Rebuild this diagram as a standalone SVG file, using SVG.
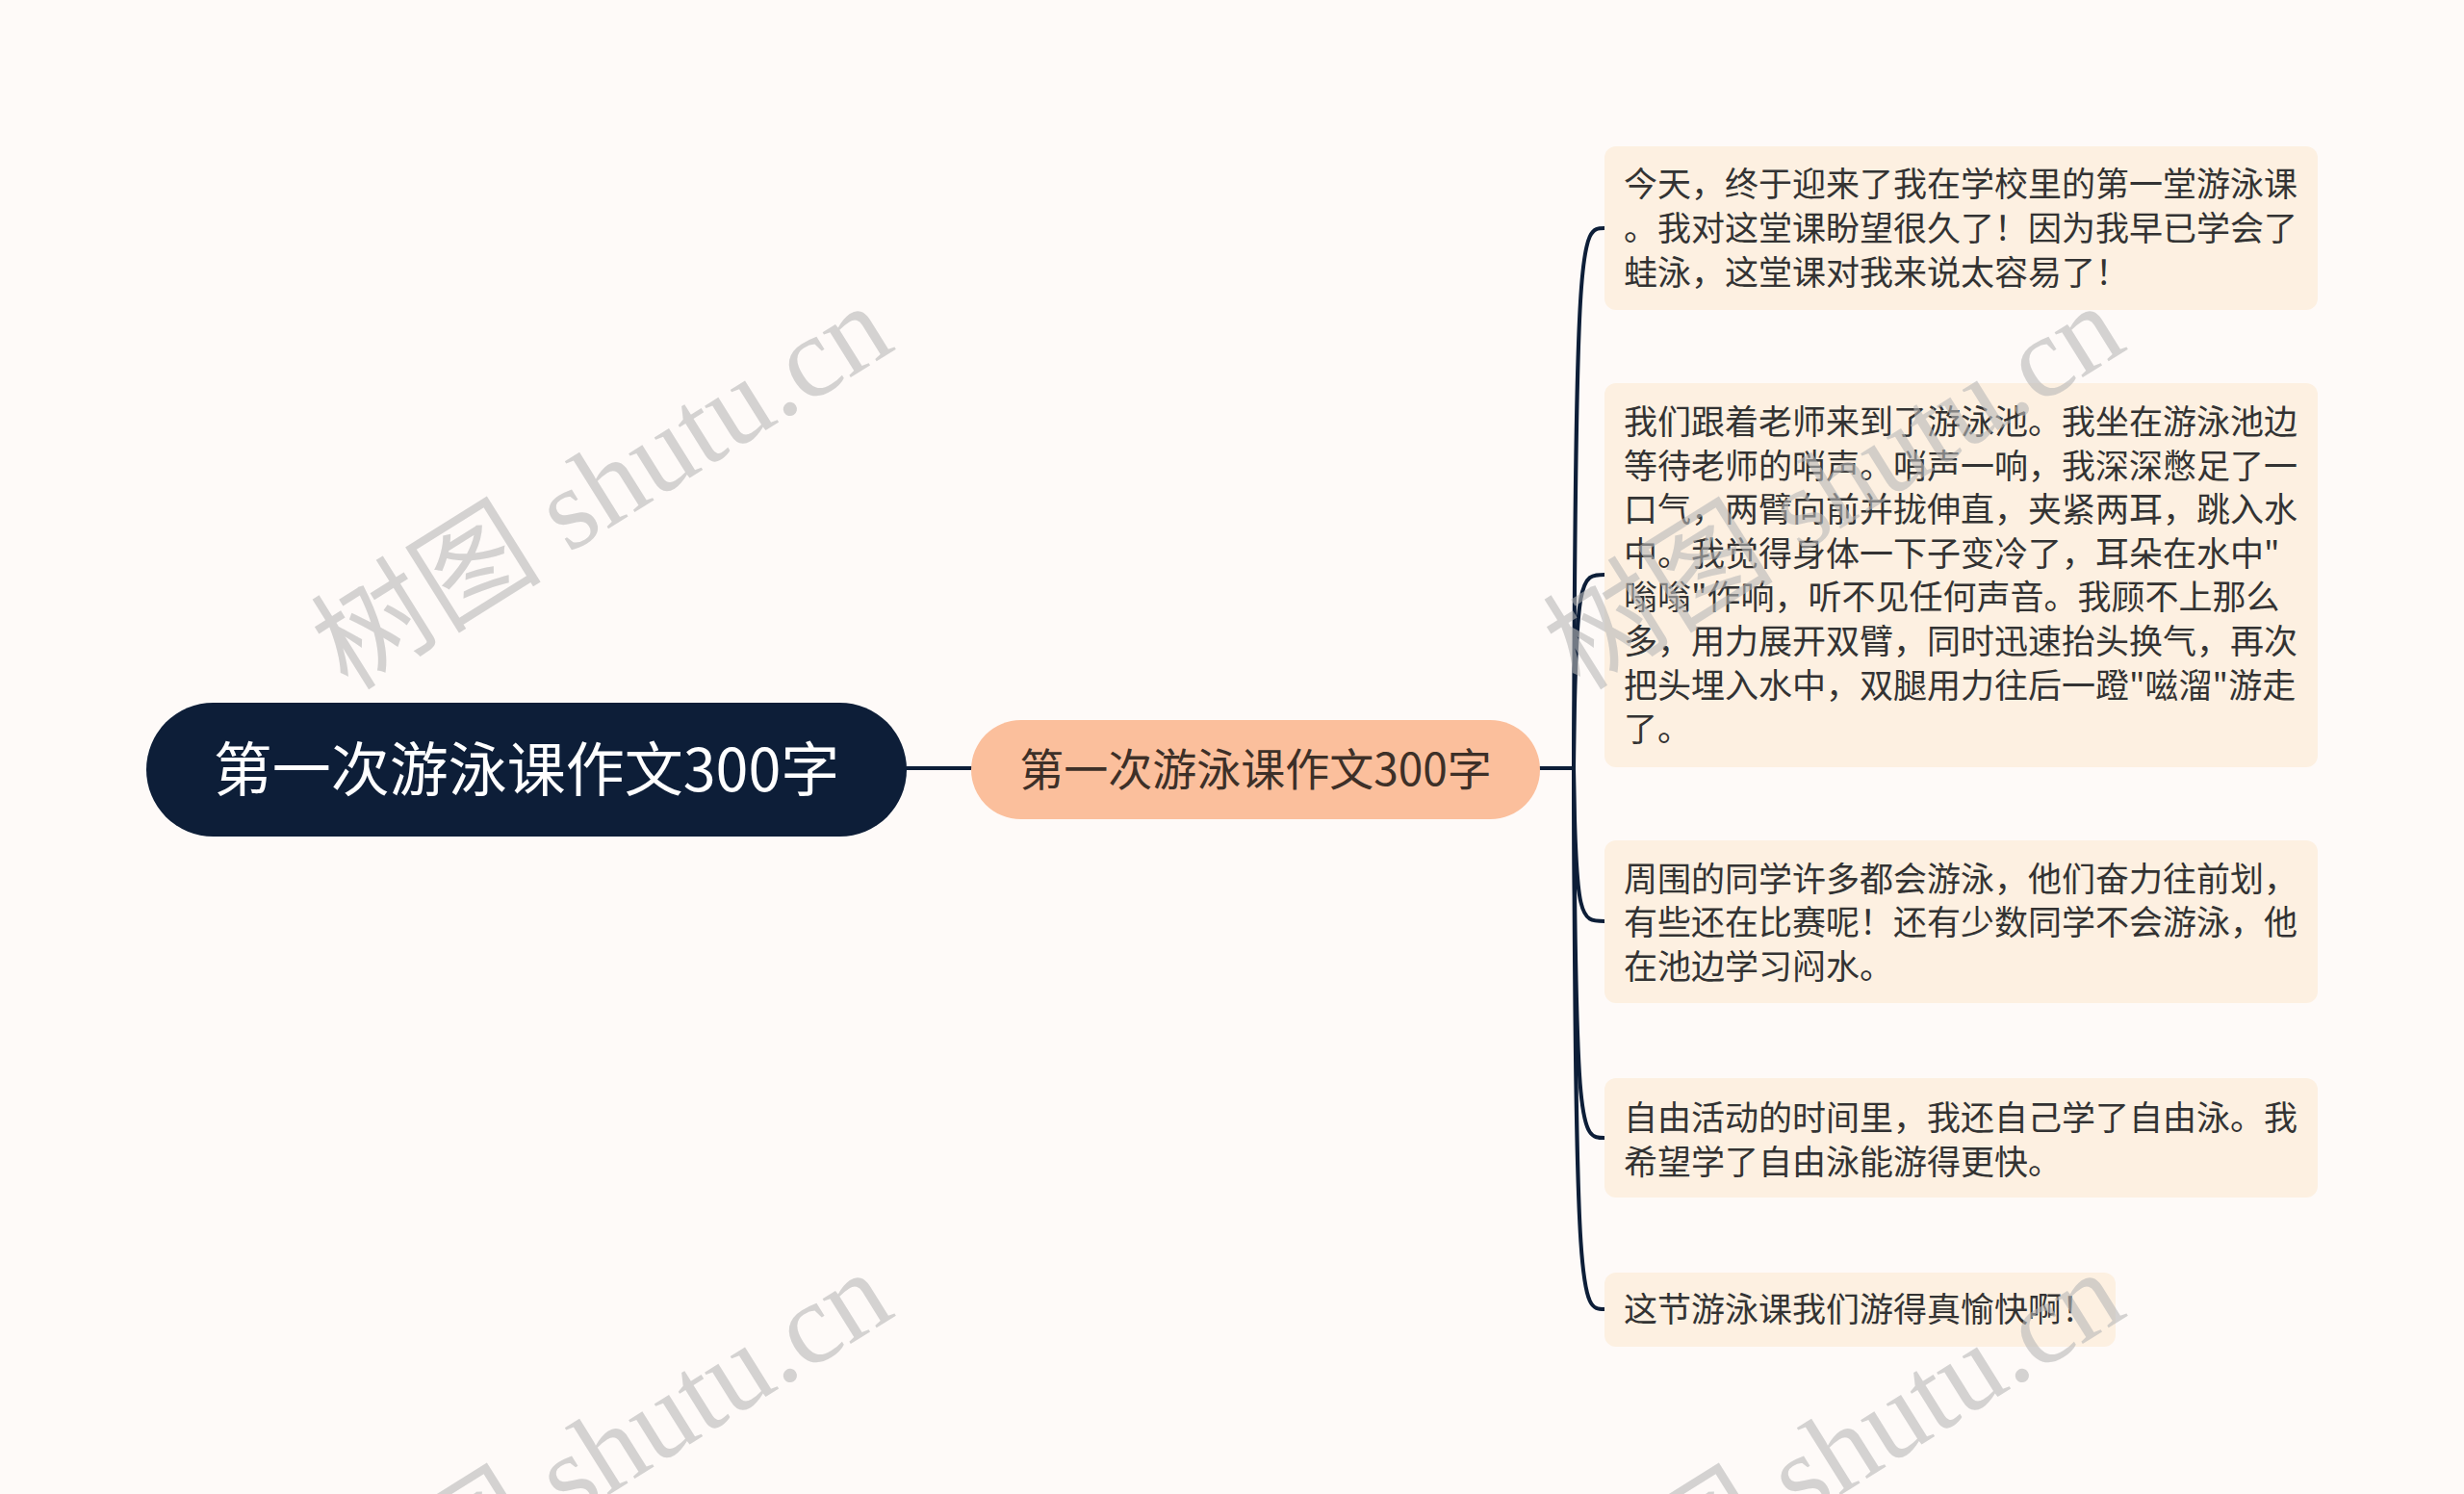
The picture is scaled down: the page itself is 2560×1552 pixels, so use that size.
<svg xmlns="http://www.w3.org/2000/svg" width="2560" height="1552" viewBox="0 0 2560 1552">
<style>
.bg{fill:#fefaf8}
.conn{fill:none;stroke:#0d1e38;stroke-width:4;stroke-linecap:round}
.root{fill:#0d1e38}
.rootT{fill:#ffffff;font-family:"Noto Sans CJK SC","Noto Sans",sans-serif;font-size:61px}
.sub{fill:#fbbf9c}
.subT{fill:#3d3028;font-family:"Noto Sans CJK SC","Noto Sans",sans-serif;font-size:46px}
.leaf{fill:#fdf0e1}
.leafT{fill:#333333;font-family:"Noto Sans CJK SC","Noto Sans",sans-serif;font-size:35px}
.wm{fill:#b8b8b8;fill-opacity:0.6;font-family:"Liberation Serif","Noto Sans CJK SC",serif;font-size:120px}
</style>
<rect class="bg" x="0" y="0" width="2560" height="1552"/>
<g id="connectors">
<line class="conn" x1="942" y1="798" x2="1009" y2="798"/>
<line class="conn" x1="1600" y1="798" x2="1635" y2="798"/>
<path class="conn" d="M1635,798 C1637,237 1642,237 1667,237"/>
<path class="conn" d="M1635,798 C1637,597 1642,597 1667,597"/>
<path class="conn" d="M1635,798 C1637,957 1642,957 1667,957"/>
<path class="conn" d="M1635,798 C1637,1182 1642,1182 1667,1182"/>
<path class="conn" d="M1635,798 C1637,1360 1642,1360 1667,1360"/>
</g>
<g id="root">
<rect class="root" x="152" y="730" width="790" height="139" rx="69.5"/>
<text class="rootT" x="547" y="822" text-anchor="middle">第一次游泳课作文300字</text>
</g>
<g id="sub">
<rect class="sub" x="1009" y="748" width="591" height="103" rx="51.5"/>
<text class="subT" x="1304.5" y="816" text-anchor="middle">第一次游泳课作文300字</text>
</g>
<g id="leaf1">
<rect class="leaf" x="1667" y="152" width="741" height="170" rx="12"/>
<text class="leafT"><tspan x="1687" y="204">今天，终于迎来了我在学校里的第一堂游泳课</tspan><tspan x="1687" y="250">。我对这堂课盼望很久了！因为我早已学会了</tspan><tspan x="1687" y="296">蛙泳，这堂课对我来说太容易了！</tspan></text>
</g>
<g id="leaf2">
<rect class="leaf" x="1667" y="398" width="741" height="399" rx="12"/>
<text class="leafT"><tspan x="1687" y="451">我们跟着老师来到了游泳池。我坐在游泳池边</tspan><tspan x="1687" y="497">等待老师的哨声。哨声一响，我深深憋足了一</tspan><tspan x="1687" y="542">口气，两臂向前并拢伸直，夹紧两耳，跳入水</tspan><tspan x="1687" y="588">中。我觉得身体一下子变冷了，耳朵在水中"</tspan><tspan x="1687" y="633">嗡嗡"作响，听不见任何声音。我顾不上那么</tspan><tspan x="1687" y="679">多，用力展开双臂，同时迅速抬头换气，再次</tspan><tspan x="1687" y="725">把头埋入水中，双腿用力往后一蹬"嗞溜"游走</tspan><tspan x="1687" y="770">了。</tspan></text>
</g>
<g id="leaf3">
<rect class="leaf" x="1667" y="873" width="741" height="169" rx="12"/>
<text class="leafT"><tspan x="1687" y="926">周围的同学许多都会游泳，他们奋力往前划，</tspan><tspan x="1687" y="971">有些还在比赛呢！还有少数同学不会游泳，他</tspan><tspan x="1687" y="1017">在池边学习闷水。</tspan></text>
</g>
<g id="leaf4">
<rect class="leaf" x="1667" y="1120" width="741" height="124" rx="12"/>
<text class="leafT"><tspan x="1687" y="1174">自由活动的时间里，我还自己学了自由泳。我</tspan><tspan x="1687" y="1220">希望学了自由泳能游得更快。</tspan></text>
</g>
<g id="leaf5">
<rect class="leaf" x="1667" y="1322" width="531" height="77" rx="12"/>
<text class="leafT" x="1687" y="1373">这节游泳课我们游得真愉快啊！</text>
</g>
<g id="watermarks">
<text class="wm" transform="translate(647,540) rotate(-32)" text-anchor="middle">树图 shutu.cn</text>
<text class="wm" transform="translate(1927,540) rotate(-32)" text-anchor="middle">树图 shutu.cn</text>
<text class="wm" transform="translate(647,1544) rotate(-32)" text-anchor="middle">树图 shutu.cn</text>
<text class="wm" transform="translate(1927,1544) rotate(-32)" text-anchor="middle">树图 shutu.cn</text>
</g>
</svg>
